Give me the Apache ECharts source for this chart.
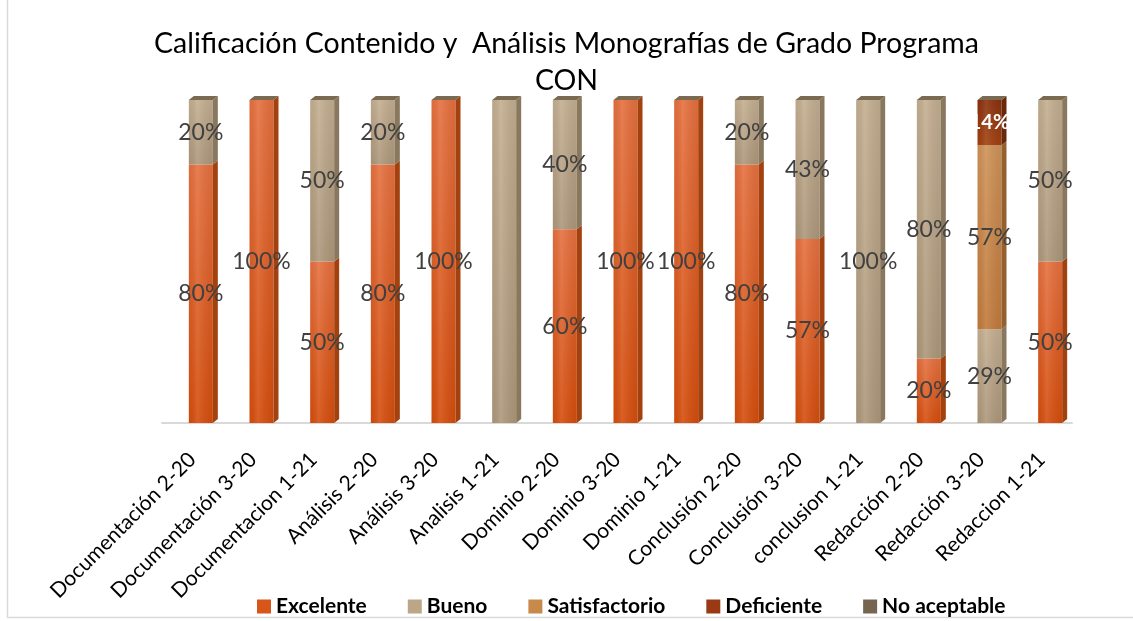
<!DOCTYPE html>
<html>
<head>
<meta charset="utf-8">
<script src="https://cdn.jsdelivr.net/npm/echarts@6/dist/echarts.min.js"></script>
<style>
  html, body { margin: 0; padding: 0; background: #ffffff; }
  #chart { width: 1133px; height: 621px; }
</style>
</head>
<body>
<div id="chart"></div>
<script>
// Periods evaluated per criterion
const categories = [
  'Documentación 2-20', 'Documentación 3-20', 'Documentacion 1-21',
  'Análisis 2-20', 'Análisis 3-20', 'Analisis 1-21',
  'Dominio 2-20', 'Dominio 3-20', 'Dominio 1-21',
  'Conclusión 2-20', 'Conclusión 3-20', 'conclusion 1-21',
  'Redacción 2-20', 'Redacción 3-20', 'Redaccion 1-21'
];

// Share of monographs per grade (percent)
const excelente     = [80, 100, 50, 80, 100, 0, 60, 100, 100, 80, 57, 0, 20, 0, 50];
const bueno         = [20, 0, 50, 20, 0, 100, 40, 0, 0, 20, 43, 100, 80, 29, 50];
const satisfactorio = [0, 0, 0, 0, 0, 0, 0, 0, 0, 0, 0, 0, 0, 57, 0];
const deficiente    = [0, 0, 0, 0, 0, 0, 0, 0, 0, 0, 0, 0, 0, 14, 0];
const noAceptable   = [0, 0, 0, 0, 0, 0, 0, 0, 0, 0, 0, 0, 0, 0, 0];

// Segments whose value label is not shown: [seriesIndex, categoryIndex]
const unlabeled = [[1, 5]];

const seriesNames = ['Excelente', 'Bueno', 'Satisfactorio', 'Deficiente', 'No aceptable'];
const seriesValues = [excelente, bueno, satisfactorio, deficiente, noAceptable];

// Face shading for the box-like bars: front gradient (top, bottom), side, legend swatch
const palette = [
  { top: '#E5703F', bottom: '#D54D0C', side: '#A3420E', swatch: '#D9561A', label: '#404040' },
  { top: '#C3AE90', bottom: '#AD977A', side: '#8A785E', swatch: '#BBA687', label: '#404040' },
  { top: '#CE9258', bottom: '#C17A3B', side: '#93602E', swatch: '#C88A4B', label: '#404040' },
  { top: '#8A300E', bottom: '#A2410F', side: '#6A280B', swatch: '#9A3A14', label: '#ffffff' },
  { top: '#7A6A52', bottom: '#6C5B45', side: '#52442F', swatch: '#76664F', label: '#404040' }
];

const FONT = 'Lato, "Noto Sans", sans-serif';
const FRONT_W = 24;   // front face width
const DEPTH_X = 5;    // side face depth
const DEPTH_Y = 4;
const SHIFT_X = 8.5;  // perspective shift of the boxes relative to the floor band

// Stacked data rows: [categoryIndex, base, top, value]
function stackedRows(si) {
  return categories.map((_, i) => {
    let base = 0;
    for (let k = 0; k < si; k++) base += seriesValues[k][i];
    const v = seriesValues[si][i];
    return [i, base, base + v, v];
  });
}

function isUnlabeled(si, idx) {
  return unlabeled.some(p => p[0] === si && p[1] === idx);
}

function makeRender(si) {
  const c = palette[si];
  return function (params, api) {
    const idx = api.value(0);
    const v = api.value(3);
    const pBase = api.coord([idx, api.value(1)]);
    const pTop = api.coord([idx, api.value(2)]);
    const cx = pBase[0] + SHIFT_X;
    const x0 = cx - FRONT_W / 2;
    const x1 = cx + FRONT_W / 2;
    const yB = pBase[1];
    const yT = pTop[1];
    const children = [];
    if (v > 0) {
      children.push({
        type: 'rect',
        shape: { x: x0, y: yT, width: FRONT_W, height: yB - yT },
        style: {
          fill: new echarts.graphic.LinearGradient(0, 0, 0, 1, [
            { offset: 0, color: c.top }, { offset: 1, color: c.bottom }
          ])
        }
      });
      // soft vertical highlight across the front face
      children.push({
        type: 'rect',
        shape: { x: x0, y: yT, width: FRONT_W, height: yB - yT },
        style: {
          fill: new echarts.graphic.LinearGradient(0, 0, 1, 0, [
            { offset: 0, color: 'rgba(0,0,0,0.04)' },
            { offset: 0.35, color: 'rgba(255,255,255,0.10)' },
            { offset: 1, color: 'rgba(0,0,0,0.06)' }
          ])
        }
      });
      children.push({
        type: 'polygon',
        shape: { points: [[x1, yT], [x1 + DEPTH_X, yT - DEPTH_Y], [x1 + DEPTH_X, yB - DEPTH_Y], [x1, yB]] },
        style: { fill: c.side }
      });
      if (!isUnlabeled(si, idx)) {
        children.push({
          type: 'text',
          style: {
            text: v + '%',
            x: cx, y: (yT + yB) / 2,
            align: 'center', verticalAlign: 'middle',
            fill: c.label,
            font: (si === 3 ? 'bold 20px ' : '23px ') + FONT
          }
        });
      }
    }
    // top face of the whole stack
    if (si === seriesNames.length - 1) {
      children.push({
        type: 'polygon',
        shape: { points: [[x0, yT], [x0 + DEPTH_X, yT - DEPTH_Y], [x1 + DEPTH_X, yT - DEPTH_Y], [x1, yT]] },
        style: { fill: c.top }
      });
    }
    return { type: 'group', children: children };
  };
}

const chart = echarts.init(document.getElementById('chart'));

chart.setOption({
  backgroundColor: '#ffffff',
  animation: false,
  // thin chart-area frame (its top and right edges run past the canvas)
  graphic: [{
    type: 'rect',
    shape: { x: 7.5, y: -10, width: 1150, height: 627.5 },
    style: { fill: 'none', stroke: '#D9D9D9', lineWidth: 1.5 },
    silent: true
  }],
  title: {
    text: 'Calificación Contenido y  Análisis Monografías de Grado Programa\nCON',
    left: 'center',
    top: 20,
    textStyle: {
      fontFamily: FONT,
      fontSize: 28.5,
      fontWeight: 'normal',
      color: '#000000',
      lineHeight: 37
    }
  },
  legend: {
    data: seriesNames,
    left: 252,
    top: 591,
    icon: 'rect',
    itemWidth: 14,
    itemHeight: 14,
    itemGap: 41,
    textStyle: {
      fontFamily: FONT,
      fontSize: 21,
      fontWeight: 'bold',
      color: '#000000',
      padding: [0, 0, 0, 0]
    }
  },
  grid: { left: 162, width: 910, top: 100, bottom: 198 },
  xAxis: {
    type: 'category',
    data: categories,
    offset: 6,
    axisLine: { show: true, lineStyle: { color: '#D9D9D9', width: 2 } },
    axisTick: { show: false },
    axisLabel: {
      rotate: 45,
      interval: 0,
      margin: 27,
      color: '#000000',
      fontFamily: FONT,
      fontSize: 21
    }
  },
  yAxis: {
    type: 'value',
    min: 0,
    max: 100,
    show: false
  },
  series: seriesNames.map((name, si) => ({
    name: name,
    type: 'custom',
    renderItem: makeRender(si),
    itemStyle: { color: palette[si].swatch },
    encode: { x: 0, y: [1, 2] },
    data: stackedRows(si)
  }))
});
</script>
</body>
</html>
